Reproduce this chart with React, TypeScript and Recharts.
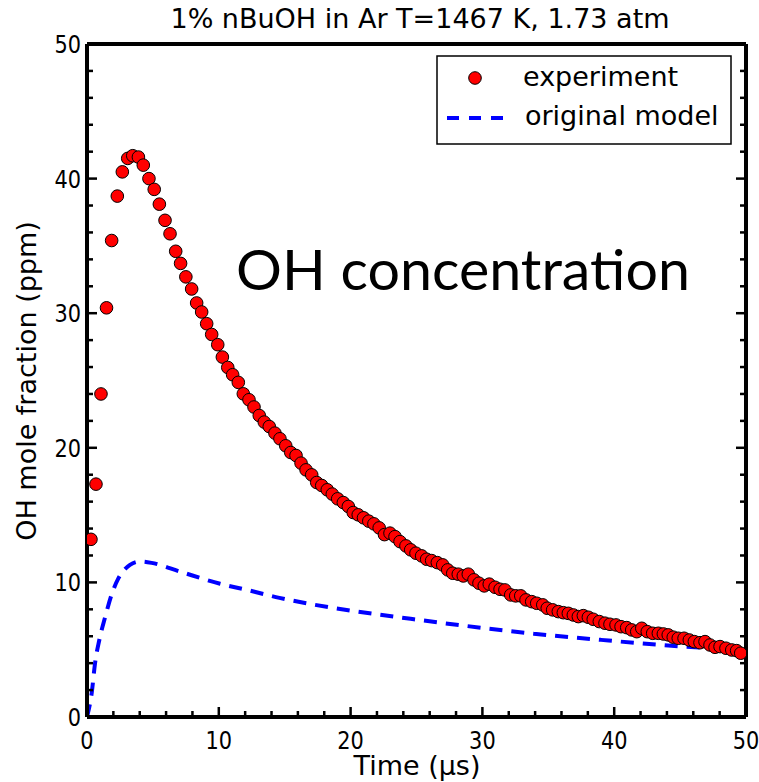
import React from 'react';
import { ComposedChart, XAxis, YAxis, Scatter, Line, Legend } from 'recharts';

const TITLE = '1% nBuOH in Ar T=1467 K, 1.73 atm';
const X_LABEL = 'Time (\u00b5s)';
const Y_LABEL = 'OH mole fraction (ppm)';
const ANNOTATION = 'OH concentration';
const SERIES_NAMES = ['experiment', 'original model'];

const expTime = [
  0.3, 0.68, 1.06, 1.48, 1.87, 2.3, 2.68, 3.09, 3.47, 3.9,
  4.27, 4.7, 5.1, 5.49, 5.92, 6.3, 6.73, 7.1, 7.5, 7.94,
  8.32, 8.7, 9.08, 9.46, 9.92, 10.27, 10.68, 11.05, 11.48, 11.86,
  12.29, 12.67, 13.07, 13.45, 13.83, 14.26, 14.64, 15.08, 15.46, 15.86,
  16.24, 16.62, 17.05, 17.43, 17.81, 18.23, 18.61, 19.02, 19.45, 19.83,
  20.2, 20.58, 20.98, 21.38, 21.77, 22.17, 22.57, 22.99, 23.37, 23.75,
  24.2, 24.56, 24.96, 25.39, 25.77, 26.15, 26.58, 26.99, 27.37, 27.75,
  28.17, 28.55, 28.93, 29.36, 29.74, 30.14, 30.52, 30.96, 31.34, 31.71,
  32.15, 32.53, 32.91, 33.31, 33.74, 34.12, 34.58, 34.92, 35.33, 35.76,
  36.14, 36.52, 36.9, 37.28, 37.66, 38.04, 38.41, 38.87, 39.3, 39.68,
  40.14, 40.52, 40.95, 41.33, 41.71, 42.09, 42.51, 42.92, 43.35, 43.73,
  44.1, 44.48, 44.86, 45.3, 45.7, 46.08, 46.51, 46.89, 47.27, 47.65,
  48.03, 48.48, 48.92, 49.29, 49.6,
];

const expOH = [
  13.2, 17.3, 24.0, 30.4, 35.4, 38.7, 40.5, 41.5, 41.7, 41.6,
  41.0, 40.0, 39.2, 38.1, 36.9, 35.9, 34.6, 33.7, 32.7, 31.8,
  30.76, 30.09, 29.22, 28.42, 27.66, 26.74, 25.97, 25.43, 24.86, 24.01,
  23.57, 23.03, 22.4, 21.91, 21.58, 21.09, 20.67, 20.15, 19.65, 19.43,
  18.86, 18.36, 17.99, 17.42, 17.2, 16.88, 16.56, 16.21, 15.93, 15.64,
  15.19, 15.02, 14.8, 14.55, 14.35, 14.05, 13.55, 13.66, 13.4, 13.03,
  12.71, 12.42, 12.17, 11.97, 11.72, 11.62, 11.47, 11.3, 10.93, 10.68,
  10.61, 10.48, 10.61, 10.19, 9.94, 9.74, 9.87, 9.64, 9.49, 9.44,
  9.07, 9.0, 9.0, 8.7, 8.57, 8.45, 8.33, 8.08, 7.96, 7.83,
  7.75, 7.7, 7.58, 7.46, 7.53, 7.41, 7.26, 7.09, 6.97, 6.89,
  6.84, 6.71, 6.64, 6.47, 6.34, 6.59, 6.34, 6.22, 6.22, 6.17,
  6.1, 5.93, 5.85, 5.85, 5.72, 5.6, 5.52, 5.6, 5.35, 5.18,
  5.23, 5.11, 4.98, 4.93, 4.74,
];

const modelTime = [
  0, 0.36, 0.61, 0.93, 1.37, 1.87, 2.38, 2.8, 3.26, 4.0,
  4.9, 7.06, 10.1, 12.1, 14.6, 17.2, 19.7, 22.2, 24.8, 28.8,
  33.9, 39.0, 44.1, 49.2, 50,
];
const modelOH = [
  0, 1.8, 4.0, 5.7, 7.4, 9.1, 10.3, 10.9, 11.3, 11.55,
  11.45, 10.8, 9.9, 9.45, 8.85, 8.35, 7.95, 7.6, 7.26, 6.76,
  6.19, 5.73, 5.31, 4.99, 4.93,
];

const axisTicks = [0, 2, 4, 6, 8, 10, 12, 14, 16, 18, 20, 22, 24, 26, 28, 30, 32, 34, 36, 38, 40, 42, 44, 46, 48, 50];
const labelledTicks = [0, 10, 20, 30, 40, 50];

const expData = expTime.map((t, i) => ({ t, oh: expOH[i] }));
const modelData = modelTime.map((t, i) => ({ t, oh: modelOH[i] }));

const FONT = '"DejaVu Sans", "Bitstream Vera Sans", sans-serif';
const W = 759;
const H = 782;
const MARGIN = { top: 43, right: 12, bottom: 64, left: 86 };
const MAJOR = 10;
const MINOR = 6;
const TICK_W = 2.5;
const AXIS_W = 4;
const SQUEEZE = 0.87;

const isMajor = (v: number) => labelledTicks.indexOf(v) >= 0;

const BottomTick = (props: any) => {
  const { x, y, payload } = props;
  const v = payload.value;
  const major = isMajor(v);
  return (
    <g>
      <line x1={x} x2={x} y1={y} y2={y - (major ? MAJOR : MINOR)} stroke="#000" strokeWidth={TICK_W} />
      {major && (
        <text transform={`translate(${x},${y + 32}) scale(${SQUEEZE},1)`} textAnchor="middle" fontSize={24} fontFamily={FONT} fill="#000">
          {v}
        </text>
      )}
    </g>
  );
};

const TopTick = (props: any) => {
  const { x, y, payload } = props;
  const major = isMajor(payload.value);
  return <line x1={x} x2={x} y1={y} y2={y + (major ? MAJOR : MINOR)} stroke="#000" strokeWidth={TICK_W} />;
};

const LeftTick = (props: any) => {
  const { x, y, payload } = props;
  const v = payload.value;
  const major = isMajor(v);
  return (
    <g>
      <line x1={x} x2={x + (major ? MAJOR : MINOR)} y1={y} y2={y} stroke="#000" strokeWidth={TICK_W} />
      {major && (
        <text transform={`translate(${x - 6},${y + 9}) scale(${SQUEEZE},1)`} textAnchor="end" fontSize={24} fontFamily={FONT} fill="#000">
          {v}
        </text>
      )}
    </g>
  );
};

const RightTick = (props: any) => {
  const { x, y, payload } = props;
  const major = isMajor(payload.value);
  return <line x1={x} x2={x - (major ? MAJOR : MINOR)} y1={y} y2={y} stroke="#000" strokeWidth={TICK_W} />;
};

const RedDot = (props: any) => {
  const { cx, cy } = props;
  if (cx == null || cy == null) return null;
  return <circle cx={cx} cy={cy} r={6.3} fill="#ff0000" stroke="#000" strokeWidth={1} />;
};

const LegendBox = () => (
  <svg width={297} height={90} style={{ display: 'block' }}>
    <rect x={1} y={1} width={294} height={88} fill="#fff" stroke="#000" strokeWidth={1.5} />
    <circle cx={39} cy={23} r={6.3} fill="#ff0000" stroke="#000" strokeWidth={1} />
    <text x={87} y={31} fontSize={27} fontFamily={FONT} fill="#000">{SERIES_NAMES[0]}</text>
    <line x1={11} x2={67} y1={63} y2={63} stroke="#0000ff" strokeWidth={4} strokeDasharray="12 10" />
    <text x={89} y={70} fontSize={27} fontFamily={FONT} fill="#000">{SERIES_NAMES[1]}</text>
  </svg>
);

export default function App() {
  return (
    <div style={{ position: 'absolute', left: 0, top: 0, width: W, height: H, background: '#fff' }}>
      <ComposedChart width={W} height={H} margin={MARGIN}>
        <XAxis
          xAxisId={0}
          dataKey="t"
          type="number"
          domain={[0, 50]}
          ticks={axisTicks}
          interval={0}
          height={1}
          tickSize={0}
          tickMargin={0}
          tickLine={false}
          axisLine={{ stroke: '#000', strokeWidth: AXIS_W }}
          tick={<BottomTick />}
          allowDataOverflow
        />
        <XAxis
          xAxisId="top"
          orientation="top"
          type="number"
          domain={[0, 50]}
          ticks={axisTicks}
          interval={0}
          height={1}
          tickSize={0}
          tickMargin={0}
          tickLine={false}
          axisLine={{ stroke: '#000', strokeWidth: AXIS_W }}
          tick={<TopTick />}
          allowDataOverflow
        />
        <YAxis
          yAxisId={0}
          dataKey="oh"
          type="number"
          domain={[0, 50]}
          ticks={axisTicks}
          interval={0}
          width={1}
          tickSize={0}
          tickMargin={0}
          tickLine={false}
          axisLine={{ stroke: '#000', strokeWidth: AXIS_W }}
          tick={<LeftTick />}
          allowDataOverflow
        />
        <YAxis
          yAxisId="right"
          orientation="right"
          type="number"
          domain={[0, 50]}
          ticks={axisTicks}
          interval={0}
          width={1}
          tickSize={0}
          tickMargin={0}
          tickLine={false}
          axisLine={{ stroke: '#000', strokeWidth: AXIS_W }}
          tick={<RightTick />}
          allowDataOverflow
        />
        <Scatter
          name={SERIES_NAMES[0]}
          data={expData}
          dataKey="oh"
          xAxisId={0}
          yAxisId={0}
          fill="#ff0000"
          shape={<RedDot />}
          isAnimationActive={false}
        />
        <Line
          name={SERIES_NAMES[1]}
          data={modelData}
          dataKey="oh"
          xAxisId={0}
          yAxisId={0}
          type="monotone"
          stroke="#0000ff"
          strokeWidth={4}
          strokeDasharray="13 9"
          dot={false}
          activeDot={false}
          isAnimationActive={false}
        />
        <Legend
          layout="vertical"
          align="center"
          verticalAlign="middle"
          wrapperStyle={{ position: 'absolute', left: 436, top: 55, width: 297, height: 90 }}
          content={<LegendBox />}
        />
        <text x={420} y={28} textAnchor="middle" fontSize={27} fontFamily={FONT} fill="#000">{TITLE}</text>
        <text x={417} y={775} textAnchor="middle" fontSize={27} fontFamily={FONT} fill="#000">{X_LABEL}</text>
        <text transform="translate(36,381) rotate(-90)" textAnchor="middle" fontSize={27} fontFamily={FONT} fill="#000">{Y_LABEL}</text>
        <text x={236} y={290} fontSize={57} fontFamily="Lato, 'Open Sans', sans-serif" fill="#000" textLength={454} lengthAdjust="spacingAndGlyphs">{ANNOTATION}</text>
      </ComposedChart>
    </div>
  );
}
